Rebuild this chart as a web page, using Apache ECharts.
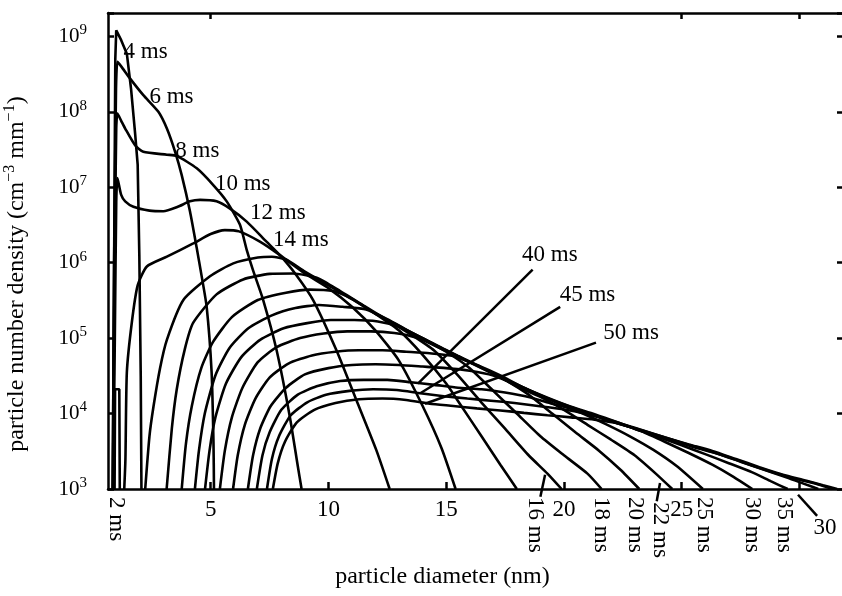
<!DOCTYPE html>
<html>
<head>
<meta charset="utf-8">
<script src="https://cdn.jsdelivr.net/npm/echarts@6/dist/echarts.min.js"></script>
<style>
  html, body { margin: 0; padding: 0; background: #fff; }
  #chart { width: 842px; height: 596px; }
</style>
</head>
<body>
<div id="chart"></div>
<script>
// axis ticks
const xTicks = [5, 10, 15, 20, 25, 30];
const xTickLabels = [5, 10, 15, 20, 25];
const topTicks = [5, 25, 30];

// size distributions: [particle diameter (nm), number density (cm^-3 mm^-1)]
const t2 = [[0.92, 1e3], [0.94, 2.1e4], [1.12, 2.1e4], [1.14, 1e3]];
const t4 = [[0.84, 1e3], [0.9, 1e6], [0.95, 5e8], [0.99, 1.2e9], [1.2, 8.9e8], [1.44, 5.9e8], [1.62, 2e8],
  [1.79, 5.2e7], [1.9, 2e7], [1.97, 1.26e6], [2.03, 3.2e4], [2.06, 1e3]];
const t6 = [[0.84, 1e3], [0.9, 1e6], [0.98, 2e8], [1.04, 4.6e8], [1.2, 4e8], [1.58, 2.75e8], [2.14, 1.66e8],
  [2.78, 1e8], [3.14, 6e7], [3.49, 2.95e7], [3.77, 1.45e7], [4.12, 4.8e6], [4.41, 1.55e6], [4.6, 7.1e5],
  [4.83, 2.6e5], [5.04, 3.5e4], [5.12, 4e3], [5.14, 1e3]];
const t8 = [[0.85, 1e3], [0.92, 1e6], [0.99, 6e7], [1.04, 9.5e7], [1.2, 7.6e7], [1.37, 6e7], [1.79, 3.6e7],
  [2.14, 2.95e7], [3.14, 2.7e7], [3.56, 2.6e7], [4.41, 1.78e7], [5.11, 1.07e7], [5.68, 6.5e6], [6.24, 3.2e6],
  [6.53, 1.48e6], [6.8, 7.9e5], [7.23, 3.2e5], [7.8, 6.9e4], [8.36, 9.1e3], [8.7, 2e3], [8.86, 1e3]];
const t10 = [[0.86, 1e3], [0.93, 1e5], [0.99, 6.3e6], [1.04, 1.32e7], [1.2, 7.9e6], [1.37, 6.5e6], [1.72, 5.5e6],
  [2.4, 4.9e6], [2.99, 4.8e6], [3.6, 5.5e6], [4.12, 6.5e6], [4.55, 6.8e6], [5.25, 6.5e6], [5.82, 5.2e6],
  [6.53, 3.5e6], [7.37, 1.9e6], [7.94, 1.26e6], [8.6, 7.1e5], [9.35, 3.2e5], [10.34, 6.9e4], [11.19, 1.5e4],
  [12.03, 3.3e3], [12.6, 1e3]];
const t12 = [[1.33, 1e3], [1.38, 2.5e3], [1.44, 3.5e4], [1.65, 1.6e5], [1.9, 5e5], [2.29, 8.9e5], [3.14, 1.2e6],
  [4.26, 1.8e6], [5.0, 2.4e6], [5.6, 2.7e6], [6.2, 2.6e6], [7.09, 1.9e6], [7.94, 1.26e6], [9, 7.2e5],
  [10, 4.6e5], [11, 2.6e5], [12, 1.26e5], [13, 5e4], [14, 1.26e4], [14.8, 3.5e3], [15.4, 1e3]];
const t14 = [[2.22, 1e3], [2.4, 5e3], [2.57, 1.23e4], [2.85, 4e4], [3.14, 9.5e4], [3.84, 3.2e5], [4.97, 6.6e5],
  [5.96, 9.8e5], [7.0, 1.17e6], [7.6, 1.2e6], [8.2, 1.1e6], [9, 7.6e5], [10, 5e5], [11, 3.3e5], [12, 2.1e5],
  [13, 1.26e5], [14, 6e4], [15, 2.5e4], [15.6, 1.32e4], [16.5, 5e3], [17.3, 2.1e3], [18, 1e3]];
const t16 = [[3.13, 1e3], [3.35, 6.3e3], [3.56, 2.1e4], [3.9, 7.1e4], [4.26, 1.6e5], [5.25, 3.8e5], [6.38, 6e5],
  [7.5, 7.1e5], [8.5, 7.2e5], [9.5, 6.3e5], [10.5, 4.2e5], [11.5, 2.7e5], [12.5, 1.74e5], [13.5, 1.12e5],
  [14.5, 6.8e4], [15.5, 3.2e4], [16.5, 1.4e4], [17.5, 6.3e3], [18.5, 2.8e3], [19.3, 1.6e3], [19.9, 1e3]];
const t18 = [[3.77, 1e3], [3.95, 4e3], [4.2, 1.26e4], [4.6, 4e4], [5.1, 8.9e4], [5.9, 1.9e5], [7.0, 3.2e5],
  [8.2, 4e5], [9.2, 4.4e5], [10.2, 4.2e5], [11, 3.3e5], [12, 2.1e5], [13, 1.45e5], [14, 9.8e4], [15, 6.6e4],
  [16, 4e4], [17, 2e4], [18, 1e4], [19, 5e3], [20, 2.8e3], [21, 1.6e3], [21.6, 1e3]];
const t20 = [[4.33, 1e3], [4.5, 3.2e3], [4.75, 1e4], [5.2, 3.2e4], [5.8, 7.4e4], [6.6, 1.35e5], [7.6, 2e5],
  [8.6, 2.5e5], [9.6, 2.75e5], [10.6, 2.6e5], [11.6, 2.4e5], [12.5, 1.78e5], [13.5, 1.2e5], [14.5, 8.3e4],
  [15.5, 5.8e4], [16.5, 4.1e4], [17.5, 2.8e4], [18.5, 1.78e4], [19.5, 1e4], [20.5, 5.6e3], [21.5, 3.2e3],
  [22.4, 1.8e3], [23.2, 1e3]];
const t22 = [[4.76, 1e3], [4.95, 3.2e3], [5.2, 8.9e3], [5.65, 2.5e4], [6.3, 5.6e4], [7.1, 9.5e4], [8.1, 1.35e5],
  [9.1, 1.58e5], [10.1, 1.74e5], [11.1, 1.74e5], [12.1, 1.66e5], [13, 1.41e5], [14, 1e5], [15, 6.9e4],
  [16, 4.8e4], [17, 3.4e4], [18, 2.3e4], [19, 1.66e4], [20, 1.12e4], [21, 7.1e3], [22, 4.5e3], [23, 2.8e3],
  [23.9, 1.6e3], [24.6, 1e3]];
const t25 = [[5.39, 1e3], [5.6, 3.2e3], [5.9, 8.9e3], [6.35, 2.2e4], [7.0, 4.8e4], [7.8, 7.6e4], [8.8, 1e5],
  [9.8, 1.15e5], [10.8, 1.23e5], [11.8, 1.23e5], [12.8, 1.17e5], [13.8, 1e5], [14.8, 7.2e4], [15.8, 5.1e4],
  [16.8, 3.6e4], [17.8, 2.6e4], [18.8, 1.86e4], [19.8, 1.35e4], [20.8, 1e4], [21.8, 7.2e3], [22.8, 5e3],
  [23.8, 3.3e3], [24.8, 2e3], [25.9, 1e3]];
const t30 = [[5.95, 1e3], [6.15, 2.8e3], [6.45, 7.1e3], [6.9, 1.58e4], [7.5, 3e4], [8.3, 4.6e4], [9.3, 5.9e4],
  [10.3, 6.6e4], [11.3, 6.9e4], [12.3, 6.9e4], [13.3, 6.6e4], [14.3, 6.3e4], [15.3, 5.8e4], [16.3, 4.4e4],
  [17.3, 3.2e4], [18.3, 2.2e4], [19.3, 1.62e4], [20.3, 1.23e4], [21.3, 9.8e3], [22.3, 7.6e3], [23.3, 5.8e3],
  [24.3, 4.2e3], [25.3, 3e3], [26.3, 2.1e3], [27.2, 1.45e3], [28, 1e3]];
const t35 = [[6.58, 1e3], [6.8, 2.8e3], [7.1, 6.3e3], [7.55, 1.26e4], [8.2, 2.2e4], [9, 3.3e4], [10, 4e4],
  [11, 4.4e4], [12, 4.5e4], [13, 4.4e4], [14, 4.2e4], [15, 4e4], [16, 3.7e4], [17, 3.2e4], [18, 2.4e4],
  [19, 1.74e4], [20, 1.32e4], [21, 1.02e4], [22, 7.9e3], [23, 6.3e3], [24, 4.9e3], [25, 3.8e3], [26, 2.9e3],
  [27, 2.2e3], [28, 1.66e3], [28.8, 1.26e3], [29.5, 1e3]];
const t40 = [[6.96, 1e3], [7.2, 2.8e3], [7.5, 5.6e3], [8, 1.12e4], [8.7, 1.78e4], [9.5, 2.3e4], [10.5, 2.7e4],
  [11.5, 2.8e4], [12.5, 2.8e4], [13.5, 2.6e4], [14.5, 2.4e4], [15.5, 2.2e4], [16.5, 2.1e4], [17.5, 1.9e4],
  [18.5, 1.66e4], [19.5, 1.35e4], [20.5, 1.12e4], [21.5, 9.1e3], [22.5, 7.2e3], [23.5, 5.8e3], [24.5, 4.6e3],
  [25.5, 3.6e3], [26.5, 2.95e3], [27.5, 2.3e3], [28.5, 1.8e3], [29.5, 1.41e3], [30.2, 1.17e3], [30.8, 1e3]];
const t45 = [[7.39, 1e3], [7.6, 2.5e3], [7.9, 5e3], [8.4, 9.5e3], [9.1, 1.41e4], [9.9, 1.78e4], [10.9, 2e4],
  [11.9, 2.1e4], [12.9, 2.05e4], [13.9, 1.86e4], [14.9, 1.7e4], [15.9, 1.58e4], [16.9, 1.48e4], [17.9, 1.38e4],
  [18.9, 1.26e4], [19.9, 1.15e4], [20.9, 1e4], [21.9, 8.1e3], [22.9, 6.5e3], [23.9, 5.1e3], [24.9, 4.2e3],
  [25.9, 3.4e3], [26.9, 2.7e3], [27.9, 2.1e3], [28.9, 1.66e3], [29.9, 1.35e3], [30.8, 1.15e3], [31.4, 1e3]];
const t50 = [[7.64, 1e3], [7.85, 2.2e3], [8.15, 4.2e3], [8.65, 7.6e3], [9.4, 1.12e4], [10.3, 1.38e4],
  [11.3, 1.55e4], [12.3, 1.58e4], [13.3, 1.51e4], [14.3, 1.35e4], [15.3, 1.26e4], [16.3, 1.17e4], [17.3, 1.1e4],
  [18.3, 1.02e4], [19.3, 9.5e3], [20.3, 8.9e3], [21.3, 8.3e3], [22.3, 7.4e3], [23.3, 6e3], [24.3, 4.8e3],
  [25.3, 3.9e3], [26.3, 3.2e3], [27.3, 2.5e3], [28.3, 1.95e3], [29.3, 1.55e3], [30.3, 1.29e3], [31.0, 1.12e3],
  [31.6, 1e3]];

const curves = [t2, t4, t6, t8, t10, t12, t14, t16, t18, t20, t22, t25, t30, t35, t40, t45, t50];

// curve names written inside the plot: [text, diameter, density]
const curveLabels = [
  ['4 ms', 1.3, 6.3e8], ['6 ms', 2.4, 1.55e8], ['8 ms', 3.5, 3e7], ['10 ms', 5.18, 1.1e7],
  ['12 ms', 6.67, 4.5e6], ['14 ms', 7.65, 2e6], ['40 ms', 18.22, 1.26e6], ['45 ms', 19.82, 3.7e5],
  ['50 ms', 21.67, 1.17e5]
];
// names written downwards under the axis
const footLabels = [
  ['2 ms', 0.99, 1e3], ['16 ms', 18.76, 1e3], ['18 ms', 21.56, 1e3], ['20 ms', 23.04, 1e3],
  ['22 ms', 24.08, 8.5e2], ['25 ms', 25.95, 1e3], ['30 ms', 28.0, 1e3], ['35 ms', 29.34, 1e3]
];
const movedTickLabel = [['30', 30.6, 3.0e2]];
// pointer lines
const leaders = [
  [[18.67, 8.1e5], [13.8, 2.5e4]],
  [[19.84, 2.6e5], [13.9, 1.86e4]],
  [[21.36, 8.7e4], [14.1, 1.35e4]],
  [[19.2, 1.55e3], [19.0, 7.9e2]],
  [[24.08, 1.2e3], [23.94, 6.9e2]],
  [[29.94, 8.4e2], [30.75, 4.4e2]]
];

const FONT = 'Liberation Serif';
const X_MIN = 0.64, X_MAX = 31.85;
const Y_MIN = 1e3, Y_MAX = 2.04e9;

const chart = echarts.init(document.getElementById('chart'));

const lineSeries = curves.map((d, i) => ({
  type: 'line',
  data: d,
  showSymbol: false,
  smooth: i < 2 ? false : 0.2,
  silent: true,
  lineStyle: { color: '#000', width: 2.6 },
  z: 2
}));

const leaderSeries = leaders.map(d => ({
  type: 'line',
  data: d,
  showSymbol: false,
  clip: false,
  silent: true,
  lineStyle: { color: '#000', width: 2.5 },
  z: 3
}));

const toPts = arr => arr.map(([n, x, y]) => ({ name: n, value: [x, y] }));

const textSeries = (data, label) => ({
  type: 'scatter', data: toPts(data), symbolSize: 0, clip: false, silent: true, z: 5,
  itemStyle: { opacity: 1 },
  label: Object.assign({ show: true, formatter: '{b}', fontFamily: FONT, fontSize: 23, color: '#000', opacity: 1 }, label)
});

chart.setOption({
  animation: false,
  backgroundColor: '#fff',
  grid: { left: 108, right: -1, top: 13, bottom: 107, outerBoundsMode: 'none', containLabel: false },
  xAxis: [
    {
      type: 'value', min: X_MIN, max: X_MAX,
      name: 'particle diameter (nm)',
      nameLocation: 'middle', nameGap: 76,
      nameTextStyle: { fontFamily: FONT, fontSize: 24, color: '#000', padding: [0, 66, 0, 0] },
      axisLine: { lineStyle: { color: '#000', width: 2.5 } },
      axisTick: { inside: true, length: 7, customValues: xTicks, lineStyle: { color: '#000', width: 2.5 } },
      axisLabel: { customValues: xTickLabels, fontFamily: FONT, fontSize: 23, color: '#000', margin: 9 },
      splitLine: { show: false }
    },
    {
      type: 'value', position: 'top', min: X_MIN, max: X_MAX,
      axisLine: { lineStyle: { color: '#000', width: 2.5 } },
      axisTick: { inside: true, length: 6, customValues: topTicks, lineStyle: { color: '#000', width: 2.5 } },
      axisLabel: { show: false },
      splitLine: { show: false }
    }
  ],
  yAxis: [
    {
      type: 'log', min: Y_MIN, max: Y_MAX, splitNumber: 6,
      name: '{t|particle number density (cm}{s|−3}{t| mm}{s|−1}{t|)}',
      nameLocation: 'middle', nameGap: 76,
      nameTextStyle: {
        padding: [0, 46, 0, 0],
        rich: {
          t: { fontFamily: FONT, fontSize: 24, color: '#000', lineHeight: 30 },
          s: { fontFamily: FONT, fontSize: 16, color: '#000', verticalAlign: 'top' }
        }
      },
      axisLine: { lineStyle: { color: '#000', width: 2.5 } },
      axisTick: { inside: true, length: 6, lineStyle: { color: '#000', width: 2.5 } },
      axisLabel: {
        margin: 21,
        formatter: v => {
          const e = Math.log10(v);
          const r = Math.round(e);
          return Math.abs(e - r) < 1e-6 ? '{b|10}{s|' + r + '}' : '';
        },
        rich: {
          b: { fontFamily: FONT, fontSize: 21, color: '#000', lineHeight: 27 },
          s: { fontFamily: FONT, fontSize: 15, color: '#000', verticalAlign: 'top' }
        }
      },
      splitLine: { show: false }
    },
    {
      type: 'log', position: 'right', min: Y_MIN, max: Y_MAX, splitNumber: 6,
      axisLine: { show: false },
      axisTick: { inside: true, length: 6, lineStyle: { color: '#000', width: 2.5 } },
      axisLabel: { show: false },
      splitLine: { show: false }
    }
  ],
  series: [
    ...lineSeries,
    ...leaderSeries,
    textSeries(curveLabels, { position: 'right', distance: 0 }),
    textSeries(footLabels, { position: 'bottom', distance: 8, rotate: -90, align: 'left', verticalAlign: 'middle' }),
    textSeries(movedTickLabel, { position: 'right', distance: 0 })
  ]
});
</script>
</body>
</html>
